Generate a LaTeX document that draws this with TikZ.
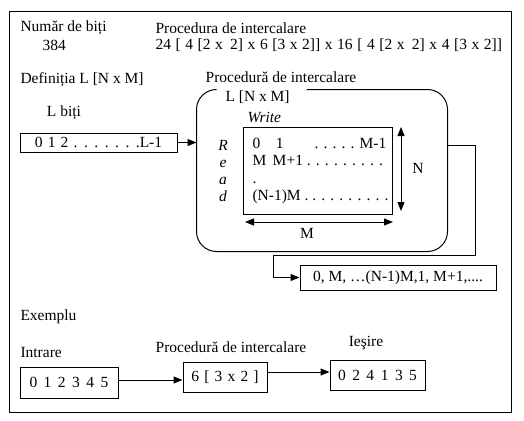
\documentclass[tikz,border=0pt]{standalone}
\usepackage{fontspec}
\setmainfont{Liberation Serif}
\usetikzlibrary{arrows.meta, calc}
\newcommand\widesp[1]{\spaceskip=#1 plus 0pt minus 0pt\relax}

\begin{document}
\begin{tikzpicture}[x=1pt, y=-1pt, >={Triangle[length=9pt, width=7pt]}, line width=1pt,
  every node/.style={font=\fontsize{15.5}{18}\selectfont, inner sep=0pt},
  box/.style={draw, inner xsep=6pt},
  wide/.style={execute at begin node={\widesp{#1}}}, wide/.default=5.2pt,
  lbl/.style={anchor=west}]
  \useasboundingbox (0,0) rectangle (524,420);
  % Frame
  \draw (9,12) rectangle (511,412);

  % Header
  \node[lbl] (nbits) at (20,28) {Număr de biți};
  \node[lbl] (nval) at (42,45) {384};
  \node[lbl] (ptitle) at (155,28) {Procedura de intercalare};
  \node[lbl, wide=4.6pt] (pval) at (155,45) {24 [ 4 [2 x\, 2] x 6 [3 x 2]] x 16 [ 4 [2 x\, 2] x 4 [3 x 2]]};

  % Definition
  \node[lbl] (defn) at (20,80) {Definiția L [N x M]};
  \node (lbl1) at (64,113) {L biți};
  \node[box, wide, minimum width=157pt, minimum height=19pt] (lbits) at (98.5,142.5) {0 1 2 . . . . . . .L-1};

  % Interleaver
  \node (ptitle2) at (281,77) {Procedură de intercalare};
  \node[minimum width=250pt, minimum height=161pt] (proc) at (322,170.5) {};
  \draw[rounded corners=20pt] ($(proc.north west)+(110,0)$) -- (proc.north east) -- (proc.south east)
    -- (proc.south west) -- (proc.north west) -- ($(proc.north west)+(18,0)$);
  \node[lbl] (lnm) at (225,97) {L [N x M]};
  \node[lbl, font=\fontsize{15.5}{18}\selectfont\itshape] (wr) at (247,117) {Write};
  \node[draw, minimum width=149pt, minimum height=87pt] (grid) at (317.5,170.5) {};
  \node[align=center, font=\fontsize{15.5}{17.2}\selectfont\itshape] (rd) at (223,171) {R\\e\\a\\d};
  \node[lbl, align=left, font=\fontsize{15.5}{17.2}\selectfont] (rows) at (252,171)
    {0\quad 1\qquad . . . . . M-1\\M\, M+1 . . . . . . . . .\\.\\(N-1)M . . . . . . . . . .};
  \coordinate (ntop) at (401,127);
  \coordinate (nbot) at (401,211);
  \draw[<->] (ntop) -- (nbot);
  \node (nlab) at (418,168) {N};
  \coordinate (mleft) at (245,222);
  \coordinate (mright) at (393,222);
  \draw[<->] (mleft) -- (mright);
  \node (mlab) at (307,233) {M};
  \draw[->] (lbits.east) -- (lbits.east -| proc.west);

  % Output sequence
  \node[box, minimum width=196pt, minimum height=25pt] (seq) at (398,277.5) {0, M, …(N-1)M,1, M+1,....};
  \draw[->] (proc.east |- 0,145) -- (475,145) -- (475,255) -- (273,255) |- (seq.west);

  % Example
  \node[lbl] (ex) at (20,317) {Exemplu};
  \node[lbl] (inp) at (20,352) {Intrare};
  \node (ptitle3) at (231,347) {Procedură de intercalare};
  \node (outp) at (366,343) {Ieşire};
  \node[box, wide=6.5pt, minimum width=98pt, minimum height=31pt] (ein) at (69,382.5) {0 1 2 3 4 5};
  \node[box, wide, minimum width=84pt, minimum height=30pt] (eproc) at (225,377) {6 [ 3 x 2 ]};
  \node[box, wide=6.5pt, minimum width=95pt, minimum height=30pt] (eout) at (377.5,375) {0 2 4 1 3 5};
  \draw[->] (ein.east |- 0,380) -- (eproc.west |- 0,380);
  \draw[->] (eproc.east |- 0,372) -- (eout.west |- 0,372);
\end{tikzpicture}
\end{document}
